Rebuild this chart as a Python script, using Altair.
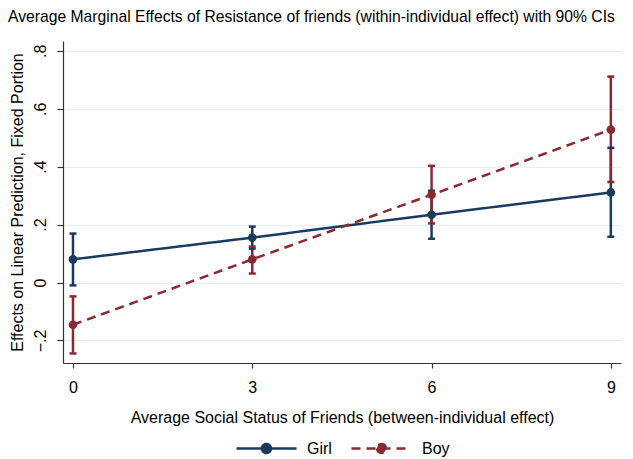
import altair as alt
import pandas as pd

x_vals = [0, 3, 6, 9]
groups = ["Girl", "Boy"]
girl_est = [0.080, 0.155, 0.234, 0.311]
girl_lo = [-0.010, 0.117, 0.151, 0.158]
girl_hi = [0.169, 0.193, 0.317, 0.465]
boy_est = [-0.146, 0.080, 0.303, 0.528]
boy_lo = [-0.245, 0.031, 0.204, 0.347]
boy_hi = [-0.048, 0.124, 0.403, 0.711]
y_ticks = [-0.2, 0, 0.2, 0.4, 0.6, 0.8]

colors = ["#1a3a5e", "#8a2a30"]
dashes = [[1, 0], [9, 6]]
FONT = "Liberation Sans"
FS = 16

rows = []
for g, est, lo, hi in [("Girl", girl_est, girl_lo, girl_hi), ("Boy", boy_est, boy_lo, boy_hi)]:
    for i, xv in enumerate(x_vals):
        rows.append(dict(x=xv, est=est[i], lo=lo[i], hi=hi[i], group=g, order=groups.index(g)))
df = pd.DataFrame(rows)

legend = alt.Legend(
    title=None, orient="none", legendX=172, legendY=376, direction="horizontal",
    symbolType="M-1,0L1,0M-0.15,0A0.15,0.15,0,1,0,0.15,0A0.15,0.15,0,1,0,-0.15,0Z",
    symbolSize=3600, symbolStrokeWidth=2.5, labelFont=FONT, labelFontSize=FS,
    labelColor="#000", labelOffset=9, columnPadding=14,
    symbolFillColor=alt.ExprRef(expr="scale('color', datum.value)"),
)

color = alt.Color("group:N", scale=alt.Scale(domain=groups, range=colors), legend=legend)
xenc = alt.X("x:Q", scale=alt.Scale(domain=[-0.167, 9.17], nice=False, zero=False),
             axis=alt.Axis(values=x_vals, title="Average Social Status of Friends (between-individual effect)",
                           grid=False, tickSize=5, labelPadding=11, titlePadding=14, format="d"))
yscale = alt.Scale(domain=[-0.278, 0.834], nice=False, zero=False)
yaxis = alt.Axis(values=y_ticks, title="Effects on Linear Prediction, Fixed Portion",
                 grid=True, tickSize=6, labelAngle=270, labelAlign="center", labelBaseline="bottom",
                 labelPadding=9, titlePadding=7,
                 labelExpr="datum.value == 0 ? '0' : replace(format(datum.value, '.1f'), '0.', '.')")

base = alt.Chart(df)

rules = base.mark_rule(strokeWidth=2.5).encode(
    x=xenc, y=alt.Y("lo:Q", scale=yscale, axis=yaxis), y2="hi:Q", color=color,
    detail="group:N", order="order:Q")
caps_lo = base.mark_tick(orient="horizontal", size=7, thickness=2.5, opacity=1).encode(
    x="x:Q", y="lo:Q", color=color)
caps_hi = base.mark_tick(orient="horizontal", size=7, thickness=2.5, opacity=1).encode(
    x="x:Q", y="hi:Q", color=color)
lines = base.mark_line(strokeWidth=2.5).encode(
    x="x:Q", y="est:Q", color=color,
    strokeDash=alt.StrokeDash("group:N", scale=alt.Scale(domain=groups, range=dashes), legend=legend))
points = base.mark_circle(size=75, opacity=1).encode(x="x:Q", y="est:Q", color=color)

chart = alt.layer(rules, caps_lo, caps_hi, lines, points).properties(
    width=558, height=322,
    autosize=alt.AutoSizeParams(type="none"),
    padding={"left": 55, "top": 33, "right": 4, "bottom": 96},
    title=alt.TitleParams(
        text="Average Marginal Effects of Resistance of friends (within-individual effect) with 90% CIs",
        anchor="start", frame="group", dx=-55, offset=15, font=FONT, fontSize=15.7,
        fontWeight="normal", color="#000"),
).configure_view(stroke=None).configure_axis(
    labelFont=FONT, labelFontSize=FS, labelColor="#000",
    titleFont=FONT, titleFontSize=FS, titleFontWeight="normal", titleColor="#000",
    domainColor="#333", domainWidth=1.2, tickColor="#333", tickWidth=1.2,
    gridColor="#e6eff1", gridWidth=1,
).configure_axisX(domain=True).configure_axisY(domain=True)

chart.save("out.html", embed_options={"renderer": "svg", "actions": False})
